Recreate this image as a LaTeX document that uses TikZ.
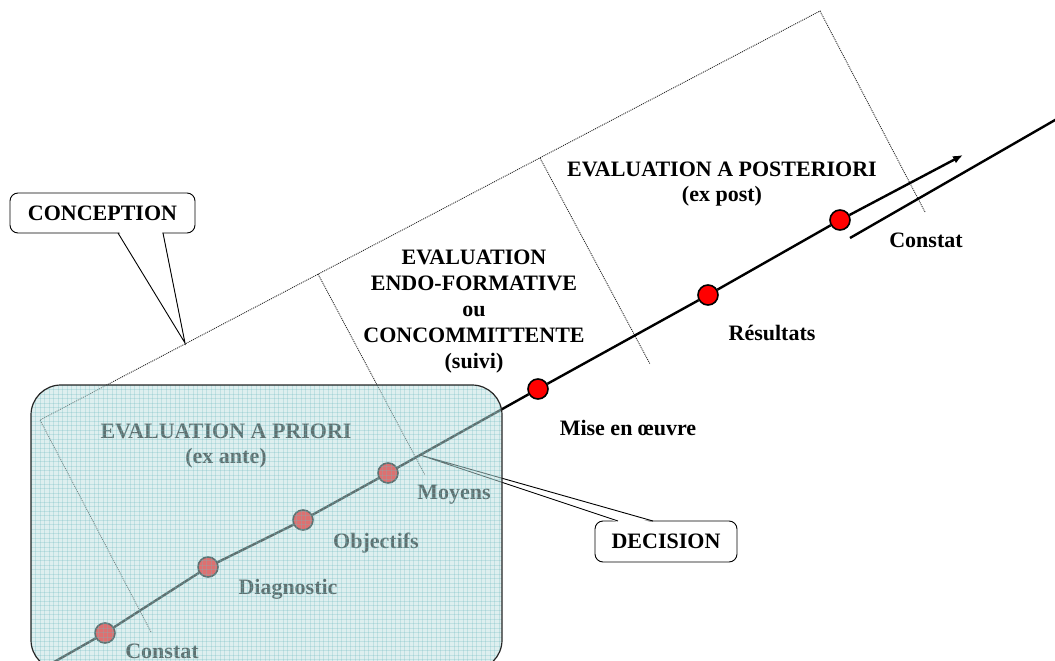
\documentclass[tikz,border=0pt]{standalone}
\usepackage{fontspec}
\setmainfont{Liberation Serif}
\usetikzlibrary{arrows.meta}
\definecolor{overlayc}{RGB}{190,224,224}
\definecolor{gridc}{RGB}{110,185,190}
\definecolor{framec}{RGB}{40,40,40}
\begin{document}
\begin{tikzpicture}[x=1pt,y=-1pt,
  lbl/.style={font=\fontsize{22}{24}\selectfont\bfseries, inner sep=0pt, anchor=base},
  dotnode/.style={circle, draw=black, line width=1.6pt, fill=red, minimum size=20pt, inner sep=0pt},
  frameline/.style={draw=framec, line width=0.9pt, dash pattern=on 1pt off 1pt},
  calloutbox/.style={draw=black, line width=0.9pt, fill=white, rounded corners=8pt,
     font=\fontsize{22}{24}\selectfont\bfseries, inner sep=0pt},
  pointerline/.style={draw=black, line width=0.9pt},
  mainline/.style={line width=2.4pt, black},
  gridline/.style={draw=gridc, opacity=0.28, line width=0.5pt},
]
\useasboundingbox (0,0) rectangle (1055,661);
\clip (0,0) rectangle (1055,661);

% rotated dotted frame
\coordinate (fBL) at (151,632);
\coordinate (fTL) at (40,420);
\coordinate (fTR) at (820,11);
\coordinate (fBR) at (925,212);
\coordinate (d1a) at (318,274);
\coordinate (d1b) at (425,475);
\coordinate (d2a) at (540,158);
\coordinate (d2b) at (650,364);
\draw[frameline] (fBL) -- (fTL) -- (fTR) -- (fBR);
\draw[frameline] (d1a) -- (d1b);
\draw[frameline] (d2a) -- (d2b);

% CONCEPTION callout
\node[calloutbox, minimum width=185pt, minimum height=40pt] (conc) at (102.5,213) {CONCEPTION};
\coordinate (concA) at (118,233);
\coordinate (concB) at (163,233);
\coordinate (concTip) at (185,343);
\fill[white] (119,231.5) -- (concTip) -- (162,231.5) -- cycle;
\draw[pointerline] (concA) -- (concTip) -- (concB);

% DECISION callout
\node[calloutbox, minimum width=142pt, minimum height=41pt] (deci) at (666,541.5) {DECISION};
\coordinate (decA) at (618,521);
\coordinate (decB) at (653,521);
\coordinate (decTip) at (420,455);
\fill[white] (619,522.5) -- (decTip) -- (652,522.5) -- cycle;
\draw[pointerline] (decA) -- (decTip) -- (decB);

% main timeline
\coordinate (start) at (40,670);
\node[dotnode] (c1) at (105,633) {};
\node[dotnode] (c2) at (208,567) {};
\node[dotnode] (c3) at (303,520) {};
\node[dotnode] (c4) at (388,473) {};
\node[dotnode] (c5) at (538,389) {};
\node[dotnode] (c6) at (708,295) {};
\node[dotnode] (c7) at (840,220) {};
\draw[mainline] (start) -- (c1) -- (c2) -- (c3) -- (c4) -- (c5) -- (c6) -- (c7);
\coordinate (arrowEnd) at (963,155);
\draw[mainline, -{Latex[length=10pt,width=8pt]}] (c7) -- (arrowEnd);
\coordinate (p1) at (850,238);
\coordinate (p2) at (1062,116);
\draw[mainline] (p1) -- (p2);

% texts
\node[lbl] (post1) at (722,176) {EVALUATION A POSTERIORI};
\node[lbl] (post2) at (722,201) {(ex post)};
\node[lbl] (endo1) at (474,264) {EVALUATION};
\node[lbl] (endo2) at (474,290) {ENDO-FORMATIVE};
\node[lbl] (endo3) at (474,316) {ou};
\node[lbl] (endo4) at (474,342) {CONCOMMITTENTE};
\node[lbl] (endo5) at (474,368) {(suivi)};
\node[lbl] (mise) at (628,435) {Mise en œuvre};
\node[lbl] (resu) at (772,340) {Résultats};
\node[lbl] (cons2) at (926,247) {Constat};
\node[lbl] (prio1) at (226,438) {EVALUATION A PRIORI};
\node[lbl] (prio2) at (226,463) {(ex ante)};
\node[lbl] (moye) at (454,499) {Moyens};
\node[lbl] (obje) at (376,548) {Objectifs};
\node[lbl] (diag) at (288,594) {Diagnostic};
\node[lbl] (cons1) at (162,658) {Constat};

% translucent gridded box (a priori phase)
\begin{scope}
  \fill[overlayc, opacity=0.5, rounded corners=30pt] (31,385) rectangle (502,670);
  \clip[rounded corners=30pt] (31,385) rectangle (502,670);
  \foreach \gx in {31,35.5,...,502} { \draw[gridline] (\gx,385) -- (\gx,670); }
  \foreach \gy in {385,389.5,...,670} { \draw[gridline] (31,\gy) -- (502,\gy); }
\end{scope}
\draw[line width=1.2pt, black!85, rounded corners=30pt] (31,385) rectangle (502,670);
\end{tikzpicture}
\end{document}
